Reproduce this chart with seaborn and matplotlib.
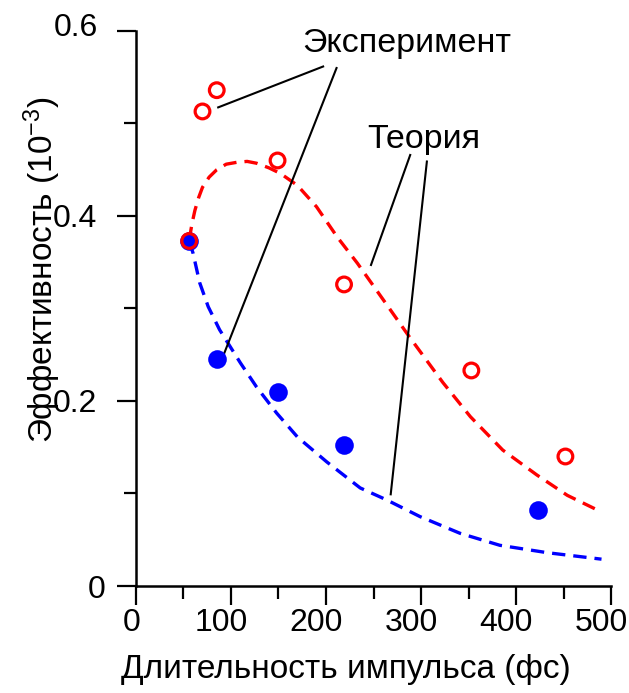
import matplotlib
matplotlib.use("Agg")
import matplotlib.pyplot as plt
import matplotlib.transforms as mtransforms
import pandas as pd
import seaborn as sns

# Measured efficiency (units of 1e-3) versus pulse duration (fs)
exp_red_x = [56, 70, 85, 149, 219, 353, 452]
exp_red_y = [0.373, 0.513, 0.536, 0.460, 0.326, 0.233, 0.140]
exp_blue_x = [56, 85, 149, 219, 423]
exp_blue_y = [0.373, 0.245, 0.210, 0.152, 0.082]

# Calculated curves
theory_red_x = [56, 59, 62, 66, 70, 77, 85, 95, 106, 117, 127, 140, 152, 170, 190,
                212, 233, 264, 288, 323, 352, 386, 422, 454, 490]
theory_red_y = [0.374, 0.392, 0.406, 0.420, 0.431, 0.442, 0.450, 0.456, 0.458, 0.459,
                0.457, 0.452, 0.446, 0.433, 0.410, 0.377, 0.349, 0.304, 0.269, 0.220,
                0.183, 0.147, 0.120, 0.098, 0.080]
theory_blue_x = [56, 60, 67, 76, 88, 110, 127, 148, 170, 201, 236, 264, 299, 341,
                 383, 433, 490]
theory_blue_y = [0.373, 0.360, 0.328, 0.302, 0.277, 0.241, 0.215, 0.187, 0.161, 0.134,
                 0.106, 0.093, 0.075, 0.057, 0.044, 0.036, 0.029]

x_ticks = [0, 100, 200, 300, 400, 500]
y_ticks = [0, 0.2, 0.4, 0.6]
y_tick_labels = ["0", "0.2", "0.4", "0.6"]

sns.set_style("ticks")
plt.rcParams["font.family"] = ["Liberation Sans", "DejaVu Sans"]
plt.rcParams["mathtext.fontset"] = "custom"
plt.rcParams["mathtext.rm"] = "Liberation Sans"
plt.rcParams["mathtext.it"] = "Liberation Sans"
for key in ("text.color", "axes.labelcolor", "xtick.color", "ytick.color",
            "axes.edgecolor"):
    plt.rcParams[key] = "black"

fig = plt.figure(figsize=(6.29, 6.93), dpi=100)
ax = fig.add_axes([0.2162, 0.1544, 0.7552, 0.8009])

red_curve = pd.DataFrame({"x": theory_red_x, "y": theory_red_y})
blue_curve = pd.DataFrame({"x": theory_blue_x, "y": theory_blue_y})
sns.lineplot(data=red_curve, x="x", y="y", color="#ff0000", lw=2.4, sort=False,
             estimator=None, ax=ax)
sns.lineplot(data=blue_curve, x="x", y="y", color="#0000ff", lw=2.4, sort=False,
             estimator=None, ax=ax)
for ln in ax.lines:
    ln.set_dashes((4.0, 2.4))
    ln.set_dash_capstyle("butt")

sns.scatterplot(x=exp_blue_x, y=exp_blue_y, color="#0000ff", s=180, marker="o",
                linewidth=0, ax=ax, zorder=3)
sns.scatterplot(x=exp_red_x, y=exp_red_y, marker="o", s=112, facecolors="none",
                edgecolor="#ff0000", linewidth=2.3, ax=ax, zorder=4)

# callout text and leader lines
ax.text(175, 0.577, "Эксперимент", fontsize=24.5, ha="left", va="baseline")
ax.text(243, 0.4735, "Теория", fontsize=24.5, ha="left", va="baseline")
leaders = [((198, 85.5), (0.562, 0.517)),
           ((211.5, 91.5), (0.561, 0.248)),
           ((289, 247), (0.467, 0.346)),
           ((306.3, 268), (0.460, 0.098))]
for xs, ys in leaders:
    ax.plot(xs, ys, color="black", lw=1.5, solid_capstyle="butt")

ax.set_xlim(0, 500)
ax.set_ylim(0, 0.6)
ax.set_xticks(x_ticks)
ax.set_xticks([50, 150, 250, 350, 450], minor=True)
ax.set_yticks(y_ticks)
ax.set_yticklabels(y_tick_labels)
ax.set_yticks([0.1, 0.3, 0.5], minor=True)
sns.despine(ax=ax)
for side in ("left", "bottom"):
    ax.spines[side].set_linewidth(1.8)
    ax.spines[side].set_color("black")
    ax.spines[side].set_capstyle("projecting")
ax.tick_params(which="major", length=13.7, width=1.6, colors="black", labelsize=23)
ax.tick_params(which="minor", length=9, width=1.6, colors="black")
ax.tick_params(axis="x", which="major", pad=2)
ax.tick_params(axis="y", which="major", pad=14)


def shift(label, dx_px, dy_px):
    label.set_transform(label.get_transform() +
                        mtransforms.ScaledTranslation(dx_px / 100, dy_px / 100,
                                                      fig.dpi_scale_trans))


# value labels sit slightly off their ticks
for tick in ax.yaxis.get_major_ticks():
    if tick.label1.get_text() == "0":
        shift(tick.label1, 8, 0)
    elif tick.label1.get_text() == "0.6":
        shift(tick.label1, 0, 6)
for tick in ax.xaxis.get_major_ticks():
    shift(tick.label1, -4 if tick.label1.get_text() == "0" else -10, 0)

ax.set_xlabel("Длительность импульса (фс)", fontsize=24, va="baseline")
ax.xaxis.set_label_coords(0.4427, -0.1658)
ax.set_ylabel("Эффективность (10$^{-3}$)", fontsize=24, va="baseline")
ax.yaxis.set_label_coords(-0.1747, 0.569)

fig.savefig("out.png", dpi=100)
